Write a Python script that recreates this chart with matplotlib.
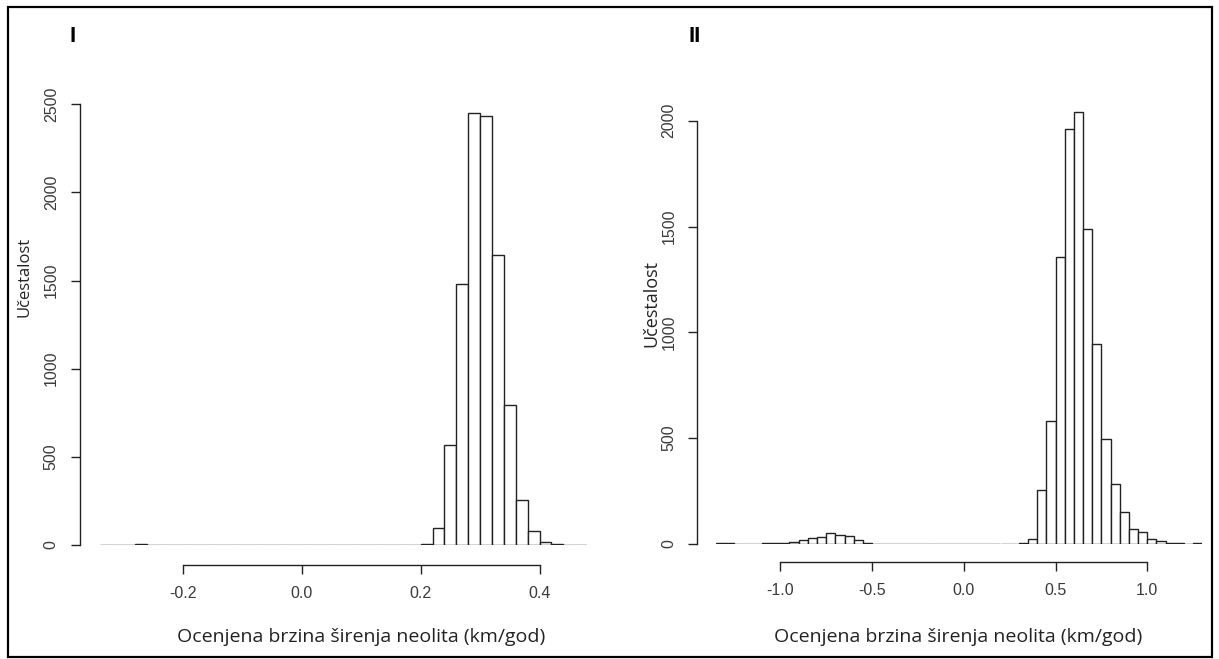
import numpy as np
import matplotlib
matplotlib.use("Agg")
import matplotlib.pyplot as plt
from matplotlib.patches import Rectangle

# ---- data -------------------------------------------------------------
# Panel I: bootstrap estimates, bins of 0.02 from -0.34 to 0.48
left_breaks = np.round(np.arange(-0.34, 0.48 + 1e-9, 0.02), 2)
left_counts = [1, 0, 0, 5, 0,
               0, 0, 0, 0, 0, 0, 0, 0, 0, 0, 0,
               0, 0, 0, 0, 0, 0, 0, 0, 0, 0, 0,
               4, 95, 567, 1478, 2450, 2435, 1645, 795, 255, 82, 19, 5, 0, 1]
left_xticks = [-0.2, 0.0, 0.2, 0.4]
left_yticks = [0, 500, 1000, 1500, 2000, 2500]

# Panel II: bins of 0.05 from -1.35 to 1.30
right_breaks = np.round(np.arange(-1.35, 1.30 + 1e-9, 0.05), 2)
right_counts = [3, 3, 0, 0, 0, 3, 3, 4, 9, 17, 27, 33, 52, 42, 38, 17, 5,
                0, 0, 0, 0, 0, 0, 0, 0, 0, 0, 0, 0, 0, 0, 0, 0,
                6, 24, 257, 582, 1354, 1960, 2040, 1489, 944, 496, 283, 153,
                71, 58, 24, 12, 7, 3, 2, 3]
right_xticks = [-1.0, -0.5, 0.0, 0.5, 1.0]
right_yticks = [0, 500, 1000, 1500, 2000]

panel_tags = ["I", "II"]
xlabel_text = "Ocenjena brzina širenja neolita (km/god)"
ylabel_text = "Učestalost"

# ---- figure -----------------------------------------------------------
W, H, DPI = 1219, 659, 100
fig = plt.figure(figsize=(W / DPI, H / DPI), dpi=DPI)
fig.patch.set_facecolor("white")

PT = 72.0 / DPI          # points per pixel
LINE = "#222222"
TEXT = "#3a3a3a"
TICK_FONT = "Liberation Sans"
LABEL_FONT = "Open Sans"


def px_axes(x0, x1, y_bottom, y_top):
    """Axes whose data box spans the given pixel rectangle."""
    return fig.add_axes([x0 / W, 1 - y_bottom / H, (x1 - x0) / W,
                         (y_bottom - y_top) / H])


def fig_text(x, y, s, **kw):
    fig.text(x / W, 1 - y / H, s, **kw)


def histogram(ax, breaks, counts):
    widths = np.diff(breaks)
    ax.bar(breaks[:-1], counts, width=widths, align="edge",
           facecolor="white", edgecolor=LINE, linewidth=1.0, zorder=2)


def r_axes(ax, xticks, yticks, left_gap_px, bottom_gap_px):
    for side in ("top", "right"):
        ax.spines[side].set_visible(False)
    ax.spines["left"].set_bounds(yticks[0], yticks[-1])
    ax.spines["bottom"].set_bounds(xticks[0], xticks[-1])
    ax.spines["left"].set_position(("outward", left_gap_px * PT))
    ax.spines["bottom"].set_position(("outward", bottom_gap_px * PT))
    for side in ("left", "bottom"):
        ax.spines[side].set_color(LINE)
        ax.spines[side].set_linewidth(1.0)
    ax.set_xticks(xticks)
    ax.set_xticklabels([f"{t:.1f}" for t in xticks])
    ax.set_yticks(yticks)
    ax.set_yticklabels([str(t) for t in yticks], rotation=90, va="center")
    ax.tick_params(direction="out", length=9 * PT, width=1.0, color=LINE,
                   labelcolor=TEXT, labelsize=11.5)
    ax.tick_params(axis="x", pad=8.5)
    ax.tick_params(axis="y", pad=8.5)
    for lab in ax.get_xticklabels() + ax.get_yticklabels():
        lab.set_family(TICK_FONT)
    ax.set_facecolor("none")


# Panel I: x = 301.8 px + 594.5 px/unit, y = 545 px at 0, 104.3 px at 2500
ax1 = px_axes(301.8 + 594.5 * left_breaks[0], 301.8 + 594.5 * left_breaks[-1],
              545.0, 104.3)
histogram(ax1, left_breaks, left_counts)
ax1.set_xlim(left_breaks[0], left_breaks[-1])
ax1.set_ylim(0, 2500)
r_axes(ax1, left_xticks, left_yticks, 20, 20)

# Panel II: x = 963.8 px + 183.5 px/unit, y = 544 px at 0, 120.7 px at 2000
ytop2 = 544.0 - (544.0 - 120.7) / 2000 * 2050
ax2 = px_axes(963.8 + 183.5 * right_breaks[0], 963.8 + 183.5 * right_breaks[-1],
              544.0, ytop2)
histogram(ax2, right_breaks, right_counts)
ax2.set_xlim(right_breaks[0], right_breaks[-1])
ax2.set_ylim(0, 2050)
r_axes(ax2, right_xticks, right_yticks, 19, 18)

# axis titles
fig_text(361, 637, xlabel_text, ha="center", va="center", fontsize=14,
         family=LABEL_FONT, color="#222222")
fig_text(958, 637, xlabel_text, ha="center", va="center", fontsize=14,
         family=LABEL_FONT, color="#222222")
fig_text(25, 277, ylabel_text, ha="center", va="center", rotation=90,
         fontsize=12, family=LABEL_FONT, color="#222222")
fig_text(651, 304, ylabel_text, ha="center", va="center", rotation=90,
         fontsize=13, family=LABEL_FONT, color="#222222")

# panel tags
fig_text(73, 36, panel_tags[0], ha="center", va="center", fontsize=16,
         fontweight="bold", family="Liberation Sans", color="black")
fig_text(695, 36, panel_tags[1], ha="center", va="center", fontsize=16,
         fontweight="bold", family="Liberation Sans", color="black")

# frame around the whole figure
fig.add_artist(Rectangle((8 / W, 1 - 657 / H), (1212 - 8) / W, (657 - 7) / H,
                         transform=fig.transFigure, fill=False,
                         edgecolor="black", linewidth=2.2 * PT))

fig.savefig("out.png", dpi=DPI, facecolor="white")
